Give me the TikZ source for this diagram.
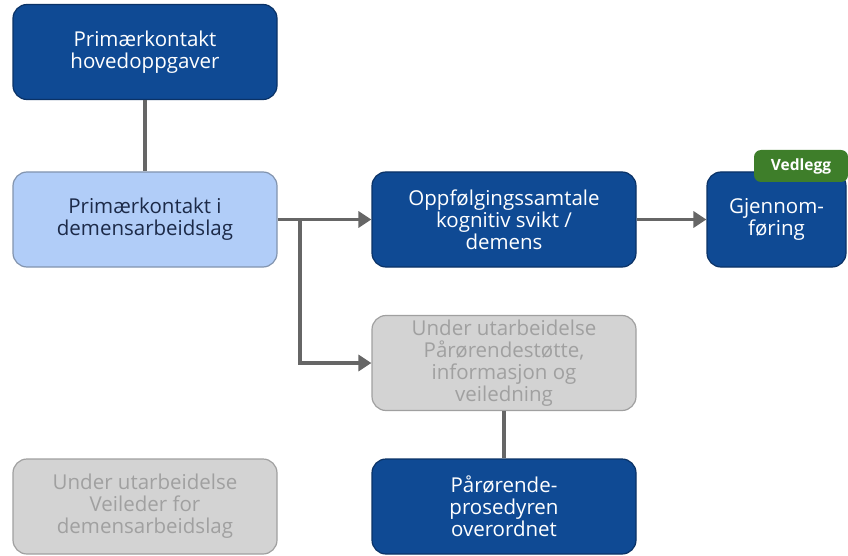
\documentclass[tikz,border=0pt]{standalone}
\usepackage{fontspec}
\setmainfont{Open Sans}
\usepackage{xcolor}
\usetikzlibrary{arrows.meta}

\definecolor{darkbox}{HTML}{0F4A94}
\definecolor{darkedge}{HTML}{0A3266}
\definecolor{lightbox}{HTML}{B1CDF8}
\definecolor{lightedge}{HTML}{8294AE}
\definecolor{lighttext}{HTML}{1C2A48}
\definecolor{greybox}{HTML}{D3D3D3}
\definecolor{greyedge}{HTML}{A0A0A0}
\definecolor{greytext}{HTML}{A0A0A0}
\definecolor{linkgrey}{HTML}{666666}
\definecolor{badgegreen}{HTML}{3E7E2A}

\begin{document}
\begin{tikzpicture}[x=1pt, y=-1pt,
    box/.style={draw, line width=1.2pt, rounded corners=14pt, minimum width=264pt, minimum height=95pt,
      align=center, inner sep=2pt, font=\fontsize{20.5}{22}\selectfont},
    darknode/.style={box, fill=darkbox, draw=darkedge, text=white},
    lightnode/.style={box, fill=lightbox, draw=lightedge, text=lighttext},
    greynode/.style={box, fill=greybox, draw=greyedge, text=greytext},
    link/.style={draw=linkgrey, line width=3.5pt},
    arrow/.style={link, -{Triangle[length=13pt, width=16pt]}}]
  \useasboundingbox (0,0) rectangle (848,556);

  \node[darknode] (hoved) at (145,52) {Primærkontakt\\hovedoppgaver};
  \node[lightnode] (lag) at (145,219.5) {Primærkontakt i\\demensarbeidslag};
  \node[darknode] (samtale) at (504,219.5) {Oppfølgingssamtale\\kognitiv svikt /\\demens};
  \node[darknode, minimum width=139pt] (gjennom) at (776.5,219.5) {Gjennom-\\føring};
  \node[greynode] (stotte) at (504,363) {Under utarbeidelse\\Pårørendestøtte,\\informasjon og\\veiledning};
  \node[darknode] (prosedyre) at (504,506.5) {Pårørende-\\prosedyren\\overordnet};
  \node[greynode] (veileder) at (145,506.5) {Under utarbeidelse\\Veileder for\\demensarbeidslag};

  \node[fill=badgegreen, text=white, rounded corners=7pt, minimum width=94pt, minimum height=32pt,
    font=\fontsize{15.5}{17}\selectfont\bfseries] (vedlegg) at (801,166) {Vedlegg};

  \coordinate (split) at (300,219.5);
  \draw[link] (hoved) -- (lag);
  \draw[arrow] (lag) -- (samtale);
  \draw[arrow] (split) |- (stotte);
  \draw[arrow] (samtale) -- (gjennom);
  \draw[link] (stotte) -- (prosedyre);
\end{tikzpicture}
\end{document}
